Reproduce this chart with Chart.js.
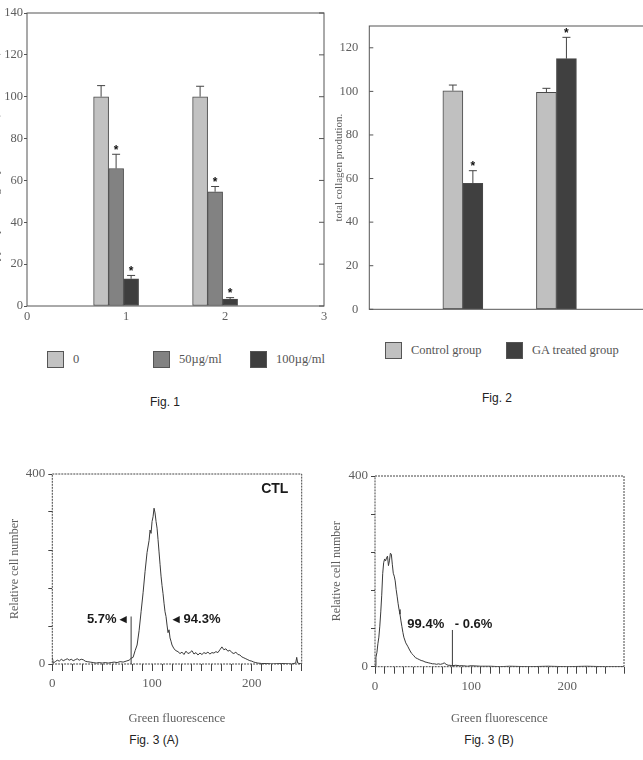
<!DOCTYPE html>
<html>
<head>
<meta charset="utf-8">
<script src="https://cdn.jsdelivr.net/npm/chart.js@4.4.1/dist/chart.umd.min.js"></script>
<style>
  html, body { margin: 0; padding: 0; background: #fff; }
  body { width: 643px; height: 760px; position: relative; overflow: hidden; }
  canvas { position: absolute; }
  .cap { position: absolute; font: 12px "Liberation Sans", Arial, sans-serif; color: #222; transform: translate(-50%, -50%); white-space: nowrap; }
  .leg { position: absolute; display: flex; align-items: center; font: 12.5px "Liberation Serif", serif; color: #555; white-space: nowrap; }
  .leg .box { width: 17px; height: 17px; border: 1px solid #555; box-sizing: border-box; margin-right: 9px; }
  .leg .txt { color: #555; }
</style>
</head>
<body>
<canvas id="fig1" width="342" height="330" style="left:-12px;top:0"></canvas>
<canvas id="fig2" width="330" height="330" style="left:320px;top:0"></canvas>
<canvas id="fig3a" width="320" height="270" style="left:0;top:460px"></canvas>
<canvas id="fig3b" width="323" height="270" style="left:320px;top:460px"></canvas>
<div id="legends"></div>
<div class="cap" style="left:165px;top:402px">Fig. 1</div>
<div class="cap" style="left:497px;top:398px">Fig. 2</div>
<div class="cap" style="left:154px;top:740px">Fig. 3 (A)</div>
<div class="cap" style="left:489px;top:740px">Fig. 3 (B)</div>
<script>
// ---- Fig. 1: collagen production by dose, two experiments ----
const fig1Groups = [0.9, 1.9];
const fig1Doses = ['0', '50\u00b5g/ml', '100\u00b5g/ml'];
const fig1Dose0 = [100, 100];
const fig1Dose50 = [65.7, 54.6];
const fig1Dose100 = [13, 3.3];
const fig1Err0 = [5.3, 5];
const fig1Err50 = [6.8, 2.5];
const fig1Err100 = [1.6, 0.7];
const fig1Sig0 = [false, false];
const fig1Sig50 = [true, true];
const fig1Sig100 = [true, true];

// ---- Fig. 2: total collagen production ----
const fig2Groups = [1, 2];
const fig2Series = ['Control group', 'GA treated group'];
const fig2Control = [100.3, 99.6];
const fig2GA = [57.8, 115];
const fig2ErrControl = [2.6, 1.8];
const fig2ErrGA = [5.8, 9.8];
const fig2SigControl = [false, false];
const fig2SigGA = [true, true];

// ---- Fig. 3: flow cytometry histograms ----
const histAx = [0, 1, 3, 5, 7, 9, 11, 13, 15, 17, 19, 21, 23, 25, 27, 29, 31, 33, 35, 38, 41, 44, 47, 50, 53, 56, 59, 62, 65, 68, 71, 74, 77, 79, 81, 83, 85, 87, 89, 91, 93, 95, 97, 98, 99, 100, 101, 102, 103, 104, 105, 106, 107, 108, 109, 110, 111, 112, 113, 114, 115, 116, 117, 118, 119, 120, 122, 124, 126, 128, 130, 132, 134, 136, 138, 140, 142, 144, 146, 148, 150, 152, 154, 156, 158, 160, 162, 164, 166, 168, 170, 172, 174, 176, 178, 180, 182, 184, 186, 188, 190, 192, 194, 196, 198, 200, 202, 204, 206, 210, 215, 220, 230, 240, 244, 245, 246, 250];
const histAy = [14, 2, 5, 8, 6, 10, 7, 9, 11, 8, 10, 7, 9, 11, 8, 10, 9, 6, 5, 4, 3, 2, 3, 2, 3, 2, 3, 4, 3, 5, 4, 6, 8, 12, 14, 28, 40, 70, 110, 150, 195, 235, 260, 282, 275, 300, 310, 328, 318, 300, 286, 262, 236, 210, 185, 165, 148, 128, 110, 100, 82, 66, 72, 55, 48, 40, 32, 28, 26, 22, 25, 20, 27, 22, 24, 28, 21, 24, 19, 23, 20, 24, 22, 25, 21, 24, 23, 26, 24, 30, 36, 30, 32, 27, 29, 24, 22, 25, 20, 19, 15, 13, 11, 9, 7, 6, 4, 3, 2, 1, 1, 0, 1, 0, 2, 14, 2, 0];
const histBx = [0, 1, 2, 3, 4, 5, 6, 7, 8, 9, 10, 11, 12, 13, 14, 15, 16, 17, 18, 19, 20, 21, 22, 23, 24, 25, 26, 27, 28, 29, 30, 31, 32, 34, 36, 38, 40, 42, 44, 46, 48, 50, 52, 54, 56, 58, 60, 62, 64, 66, 68, 70, 72, 74, 76, 78, 80, 84, 88, 92, 96, 100, 110, 120, 130, 140, 160, 180, 200, 220, 240, 259];
const histBy = [2, 20, 30, 48, 62, 85, 115, 150, 195, 218, 226, 222, 228, 232, 212, 222, 238, 236, 215, 196, 190, 180, 162, 148, 133, 120, 110, 96, 84, 72, 62, 56, 50, 43, 35, 28, 24, 19, 17, 15, 13, 12, 10, 9, 8, 7, 6, 6, 5, 6, 5, 6, 8, 5, 3, 3, 2, 3, 2, 2, 1, 2, 1, 1, 0, 1, 0, 1, 0, 1, 0, 0];
const gateX = [79, 80.5];
const gateTop = [100, 77];

const serif = '"Liberation Serif", "DejaVu Serif", serif';
const sans = '"Liberation Sans", Arial, sans-serif';
const txtGray = '#5e5e5e';

// box around the plot area, optional inward ticks
const framePlugin = {
  id: 'frame',
  afterDraw(chart, args, opts) {
    const { ctx, chartArea: a } = chart;
    const y = chart.scales.y;
    ctx.save();
    ctx.strokeStyle = opts.color || '#555';
    ctx.lineWidth = 1;
    ctx.setLineDash(opts.dash || []);
    ctx.strokeRect(a.left, a.top, a.right - a.left, a.bottom - a.top);
    ctx.setLineDash([]);
    (opts.inner || []).forEach(side => {
      y.ticks.forEach(t => {
        const py = y.getPixelForValue(t.value);
        const x0 = side === 'left' ? a.left : a.right;
        ctx.beginPath();
        ctx.moveTo(x0, py);
        ctx.lineTo(x0 + (side === 'left' ? 4 : -5), py);
        ctx.stroke();
      });
    });
    ctx.restore();
  }
};

// upward error bars with significance stars
const errPlugin = {
  id: 'errBars',
  afterDatasetsDraw(chart) {
    const { ctx } = chart;
    const y = chart.scales.y;
    ctx.save();
    ctx.strokeStyle = '#444';
    ctx.lineWidth = 1;
    ctx.fillStyle = '#111';
    ctx.font = 'bold 12px ' + sans;
    ctx.textAlign = 'center';
    ctx.textBaseline = 'middle';
    chart.data.datasets.forEach((ds, di) => {
      chart.getDatasetMeta(di).data.forEach((bar, i) => {
        const top = y.getPixelForValue(ds.data[i].y + ds.errors[i]);
        ctx.beginPath();
        ctx.moveTo(bar.x, bar.y);
        ctx.lineTo(bar.x, top);
        ctx.moveTo(bar.x - 4, top);
        ctx.lineTo(bar.x + 4, top);
        ctx.stroke();
        if (ds.sig[i]) ctx.fillText('*', bar.x, top - 4);
      });
    });
    ctx.restore();
  }
};

// text notes placed in data units
const notePlugin = {
  id: 'notes',
  afterDatasetsDraw(chart, args, opts) {
    const { ctx, scales } = chart;
    ctx.save();
    ctx.fillStyle = '#1a1a1a';
    ctx.textBaseline = 'middle';
    (opts.items || []).forEach(n => {
      ctx.font = n.font;
      ctx.textAlign = n.align;
      ctx.fillText(n.text, scales.x.getPixelForValue(n.x), scales.y.getPixelForValue(n.y));
    });
    ctx.restore();
  }
};

function fixSize(w, h) {
  return s => { if (w != null) s.width = w; if (h != null) s.height = h; };
}

function barDs(label, vals, errs, sig, color, xs) {
  return {
    label,
    data: xs.map((x, i) => ({ x, y: vals[i] })),
    errors: errs,
    sig,
    backgroundColor: color,
    borderColor: '#4a4a4a',
    borderWidth: 1,
    borderSkipped: false
  };
}

const fig1Colors = ['#c2c2c2', '#828282', '#3e3e3e'];
new Chart(document.getElementById('fig1'), {
  type: 'bar',
  data: {
    datasets: [
      barDs(fig1Doses[0], fig1Dose0, fig1Err0, fig1Sig0, fig1Colors[0], fig1Groups),
      barDs(fig1Doses[1], fig1Dose50, fig1Err50, fig1Sig50, fig1Colors[1], fig1Groups),
      barDs(fig1Doses[2], fig1Dose100, fig1Err100, fig1Sig100, fig1Colors[2], fig1Groups)
    ]
  },
  options: {
    responsive: false,
    animation: false,
    barThickness: 15,
    layout: { padding: { top: 13, right: 6, bottom: 0, left: 0 } },
    plugins: { legend: { display: false }, tooltip: { enabled: false }, frame: { inner: ['right'] } },
    scales: {
      x: {
        type: 'linear', min: 0, max: 3, offset: false,
        grid: { display: false, offset: false }, border: { display: false },
        ticks: { stepSize: 1, padding: -5, color: txtGray, font: { family: serif, size: 12.5 } },
        afterFit: fixSize(null, 24)
      },
      y: {
        min: 0, max: 140,
        grid: { drawOnChartArea: false, tickLength: 3, color: '#555' }, border: { display: false },
        ticks: { stepSize: 20, padding: 1, color: txtGray, font: { family: serif, size: 12.5 } },
        title: { display: true, text: 'Type I procollagen production (% of control)', color: txtGray, font: { family: serif, size: 12 }, padding: { top: 0 } },
        afterFit: fixSize(39, null)
      }
    }
  },
  plugins: [framePlugin, errPlugin]
});

const fig2Colors = ['#c0c0c0', '#404040'];
new Chart(document.getElementById('fig2'), {
  type: 'bar',
  data: {
    datasets: [
      barDs(fig2Series[0], fig2Control, fig2ErrControl, fig2SigControl, fig2Colors[0], fig2Groups),
      barDs(fig2Series[1], fig2GA, fig2ErrGA, fig2SigGA, fig2Colors[1], fig2Groups)
    ]
  },
  options: {
    responsive: false,
    animation: false,
    barThickness: 20,
    layout: { padding: { top: 26, right: 0, bottom: 0, left: 0 } },
    plugins: { legend: { display: false }, tooltip: { enabled: false }, frame: { inner: ['left'] } },
    scales: {
      x: {
        type: 'linear', min: 0, max: 3, offset: false,
        grid: { display: false, offset: false }, border: { display: false },
        ticks: { display: false },
        afterFit: fixSize(null, 20.7)
      },
      y: {
        min: 0, max: 130,
        grid: { drawOnChartArea: false, drawTicks: false }, border: { display: false },
        ticks: { stepSize: 20, includeBounds: false, padding: 11, color: txtGray, font: { family: serif, size: 12.5 } },
        title: { display: true, text: 'total collagen prodution.', color: txtGray, font: { family: serif, size: 11 }, padding: { top: 13 } },
        afterFit: fixSize(49.3, null)
      }
    }
  },
  plugins: [framePlugin, errPlugin]
});

function histChart(id, xs, ys, gx, gTop, xMax, dims, notes) {
  return new Chart(document.getElementById(id), {
    type: 'line',
    data: {
      datasets: [
        {
          data: xs.map((x, i) => ({ x, y: ys[i] })),
          borderColor: '#3a3a3a', borderWidth: 1, pointRadius: 0, tension: 0
        },
        {
          data: [{ x: gx, y: 0 }, { x: gx, y: gTop }],
          borderColor: '#3a3a3a', borderWidth: 1, pointRadius: 0
        }
      ]
    },
    options: {
      responsive: false,
      animation: false,
      layout: { padding: { top: dims.top, right: dims.right, bottom: 0, left: 0 } },
      plugins: { legend: { display: false }, tooltip: { enabled: false }, frame: { color: '#444', dash: [2, 1] }, notes: { items: notes } },
      scales: {
        x: {
          type: 'linear', min: 0, max: xMax,
          grid: { drawOnChartArea: false, tickLength: 7, color: '#444' }, border: { display: false },
          ticks: {
            stepSize: 10, autoSkip: false, maxRotation: 0, padding: 5, color: txtGray,
            font: { family: serif, size: 13 },
            callback: v => (v % 100 === 0 ? v : '')
          },
          title: { display: true, text: 'Green fluorescence', color: txtGray, font: { family: serif, size: 12.5 }, padding: { bottom: 4 } },
          afterFit: fixSize(null, dims.xh)
        },
        y: {
          min: 0, max: 400,
          grid: { drawOnChartArea: false, tickLength: 4, color: '#444' }, border: { display: false },
          ticks: {
            stepSize: 80, padding: 3, color: txtGray, font: { family: serif, size: 13 },
            callback: v => (v === 0 || v === 400 ? v : '')
          },
          title: { display: true, text: 'Relative cell number', color: txtGray, font: { family: serif, size: 12 }, padding: { top: dims.tp } },
          afterFit: fixSize(dims.yw, null)
        }
      }
    },
    plugins: [framePlugin, notePlugin]
  });
}

const bold = 'bold 13px ' + sans;
histChart('fig3a', histAx, histAy, gateX[0], gateTop[0], 250,
  { top: 14, right: 18.3, xh: 66, yw: 52.3, tp: 8 },
  [
    { text: 'CTL', x: 223, y: 368, align: 'center', font: 'bold 14px ' + sans },
    { text: '5.7% \u25c2', x: 75, y: 93, align: 'right', font: bold },
    { text: '\u25c2 94.3%', x: 121, y: 93, align: 'left', font: bold }
  ]);
histChart('fig3b', histBx, histBy, gateX[1], gateTop[1], 259,
  { top: 16, right: 19, xh: 63.3, yw: 55, tp: 10 },
  [
    { text: '99.4%', x: 72, y: 89, align: 'right', font: bold },
    { text: '- 0.6%', x: 83, y: 89, align: 'left', font: bold }
  ]);

// HTML legends built from the series names and colours
function legendItem(label, color, left, top) {
  const d = document.createElement('div');
  d.className = 'leg';
  d.style.left = left + 'px';
  d.style.top = top + 'px';
  const b = document.createElement('span');
  b.className = 'box';
  b.style.background = color;
  const t = document.createElement('span');
  t.className = 'txt';
  t.textContent = label;
  d.appendChild(b);
  d.appendChild(t);
  document.getElementById('legends').appendChild(d);
}
const fig1LegendLeft = [47, 153, 250];
fig1Doses.forEach((l, i) => legendItem(l, fig1Colors[i], fig1LegendLeft[i], 351));
const fig2LegendLeft = [385, 506];
fig2Series.forEach((l, i) => legendItem(l, fig2Colors[i], fig2LegendLeft[i], 342));
</script>
</body>
</html>
